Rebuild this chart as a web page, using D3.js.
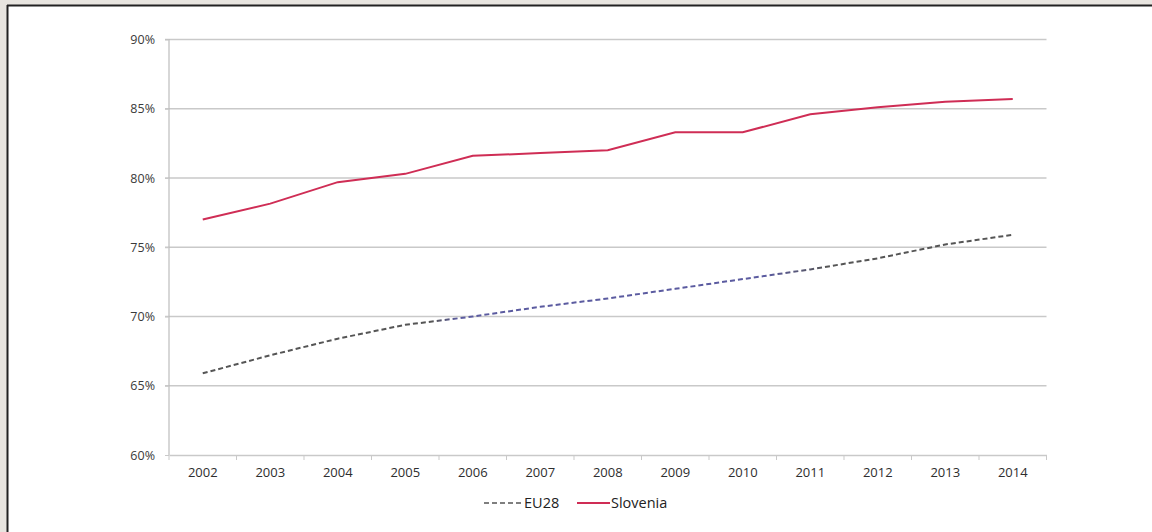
<!DOCTYPE html>
<html><head><meta charset="utf-8">
<script src="https://cdn.jsdelivr.net/npm/d3@7"></script>
<style>
html,body{margin:0;padding:0;background:#e8e5e0;}
svg{display:block;}
</style></head>
<body><svg id="c" width="1152" height="532"></svg>
<script>
const years = ["2002","2003","2004","2005","2006","2007","2008","2009","2010","2011","2012","2013","2014"];
const eu28 = [65.9,67.2,68.4,69.4,70.0,70.7,71.3,72.0,72.7,73.4,74.2,75.2,75.9];
const slovenia = [77.0,78.15,79.7,80.3,81.6,81.8,82.0,83.3,83.3,84.6,85.1,85.5,85.7];
const yTicks = [60,65,70,75,80,85,90];
const seriesNames = ["EU28","Slovenia"];

(function(){
const svg = d3.select("#c");
// frame
svg.append("rect").attr("x",8).attr("y",6).attr("width",1144).attr("height",526).attr("fill","#fff");
svg.append("line").attr("x1",7).attr("x2",1152).attr("y1",5.5).attr("y2",5.5).attr("stroke","#222").attr("stroke-width",2);
svg.append("line").attr("x1",7.5).attr("x2",7.5).attr("y1",5).attr("y2",532).attr("stroke","#222").attr("stroke-width",2);

const pL=169, pR=1046.5, pT=39.5, pB=455;
const x = d3.scaleBand().domain(years).range([pL,pR]);
const y = d3.scaleLinear().domain([60,90]).range([pB,pT]);
const font = "'Open Sans', 'Liberation Sans', sans-serif";

// gridlines
svg.append("g").selectAll("line").data(yTicks.filter(d=>d>60)).join("line")
  .attr("x1",pL-4).attr("x2",pR).attr("y1",d=>y(d)).attr("y2",d=>y(d))
  .attr("stroke","#c9c9c9").attr("stroke-width",1.5);

// y axis
const ya = svg.append("g").attr("transform",`translate(${pL},0)`)
  .call(d3.axisLeft(y).tickValues(yTicks).tickFormat(d=>d+"%").tickSize(4).tickPadding(10));
ya.select(".domain").attr("stroke","#bdbdbd").attr("stroke-width",1.2).attr("d",`M-4,${pT}H0V${pB}`);
ya.selectAll(".tick line").attr("stroke","#c9c9c9");
ya.selectAll("text").attr("font-family",font).attr("font-size",12.5).attr("fill","#3a3a3a");

// x axis
const xa = svg.append("g").attr("transform",`translate(0,${pB})`)
  .call(d3.axisBottom(x).tickSize(0).tickPadding(13));
xa.select(".domain").attr("stroke","#c9c9c9").attr("stroke-width",1.5);
xa.selectAll("text").attr("font-family",font).attr("font-size",13).attr("fill","#2e2e2e");
svg.append("g").selectAll("line").data(d3.range(years.length+1)).join("line")
  .attr("x1",i=>pL+i*x.step()).attr("x2",i=>pL+i*x.step())
  .attr("y1",pB).attr("y2",pB+5).attr("stroke","#c9c9c9");

// gradient for EU28 dashed line
const defs = svg.append("defs");
const g = defs.append("linearGradient").attr("id","euGrad").attr("gradientUnits","userSpaceOnUse")
  .attr("x1",x("2002")).attr("x2",x("2014")+x.bandwidth()).attr("y1",0).attr("y2",0);
g.append("stop").attr("offset","0%").attr("stop-color","#555");
g.append("stop").attr("offset","30%").attr("stop-color","#555");
g.append("stop").attr("offset","33%").attr("stop-color","#5b5ba0");
g.append("stop").attr("offset","68%").attr("stop-color","#5b5ba0");
g.append("stop").attr("offset","75%").attr("stop-color","#555");
g.append("stop").attr("offset","100%").attr("stop-color","#555");

const line = d3.line().x((d,i)=>x(years[i])+x.bandwidth()/2).y(d=>y(d));
svg.append("path").datum(eu28).attr("d",line).attr("fill","none")
  .attr("stroke","url(#euGrad)").attr("stroke-width",2).attr("stroke-dasharray","5,3");
svg.append("path").datum(slovenia).attr("d",line).attr("fill","none")
  .attr("stroke","#cf2d55").attr("stroke-width",2);

// legend
const lg = svg.append("g").attr("font-family",font).attr("font-size",14.5).attr("fill","#222");
lg.append("line").attr("x1",484).attr("x2",523).attr("y1",503).attr("y2",503)
  .attr("stroke","#555").attr("stroke-width",1.6).attr("stroke-dasharray","5,3");
lg.append("text").attr("x",524).attr("y",508).text(seriesNames[0]);
lg.append("line").attr("x1",577).attr("x2",610).attr("y1",503).attr("y2",503)
  .attr("stroke","#cf2d55").attr("stroke-width",2);
lg.append("text").attr("x",611).attr("y",508).text(seriesNames[1]);
})();
</script></body></html>
